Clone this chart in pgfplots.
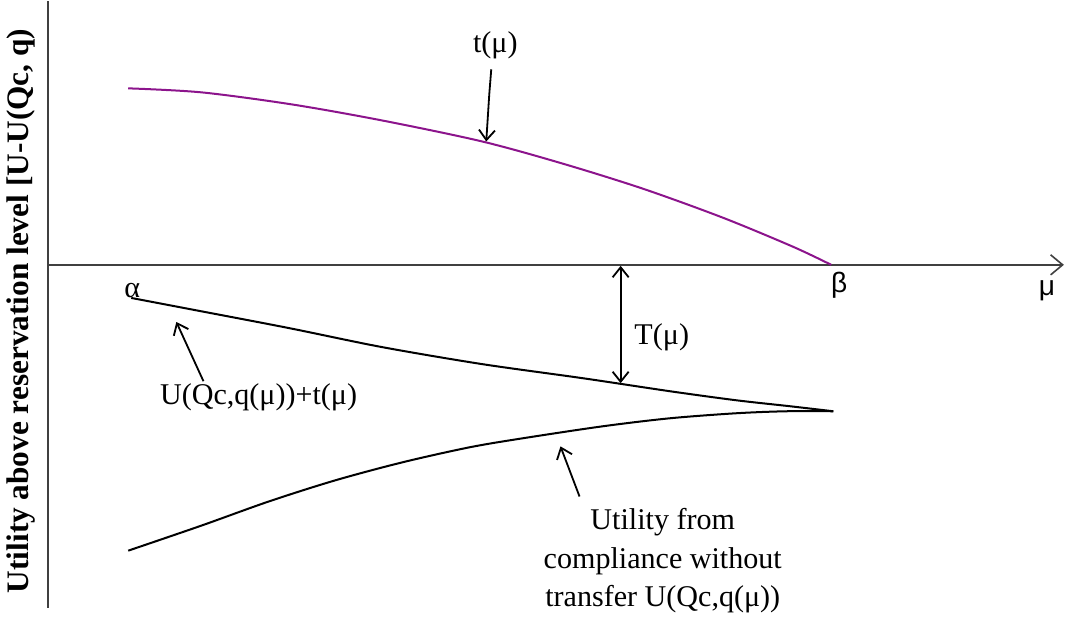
\documentclass[border=0pt]{standalone}
\usepackage{fontspec}
\setmainfont{Liberation Serif}
\newfontfamily\sansf{Liberation Sans}
\usepackage{pgfplots}
\pgfplotsset{compat=1.18}
\usetikzlibrary{arrows.meta}
\begin{document}
\begin{tikzpicture}
\begin{axis}[
  scale only axis, width=532.5pt, height=308.5pt,
  xmin=0, xmax=1065, ymin=-617, ymax=0,
  hide axis, clip=false,
  every axis plot/.append style={line join=round},
]
% axes
\addplot[draw=black!75, line width=1.1pt, -{Straight Barb[length=6pt,width=10pt,line width=0.8pt]}] coordinates {(47,-265) (1060,-265)};
\addplot[draw=black!75, line width=1.1pt] coordinates {(47,-2) (47,-607)};
% t(mu)
\addplot[draw={rgb,255:red,140;green,20;blue,140}, line width=1pt, smooth] coordinates {
(127,-89) (200,-93) (290,-105) (380,-121) (480,-142) (560,-164) (640,-189) (720,-218) (790,-247) (828,-265)};
% U(Qc,q(mu))+t(mu)
\addplot[black, line width=1pt, smooth] coordinates {
(130,-298) (193,-310) (287,-328) (380,-347) (480,-364) (580,-378) (667,-391) (733,-400) (787,-406) (830,-411)};
% U(Qc,q(mu))
\addplot[black, line width=1pt, smooth] coordinates {
(127,-550) (200,-525) (267,-501) (333,-480) (400,-462) (467,-447) (520,-438) (600,-426) (667,-418) (733,-413) (783,-411) (830,-411)};
% annotation arrows
\addplot[black, line width=0.9pt, -{Straight Barb[length=5pt,width=8pt]}] coordinates {(489,-70) (487,-95) (484,-142)};
\addplot[black, line width=0.9pt, -{Straight Barb[length=5pt,width=8pt]}] coordinates {(202,-381) (175,-322)};
\addplot[black, line width=0.9pt, -{Straight Barb[length=5pt,width=8pt]}] coordinates {(577,-496) (558,-446)};
\addplot[black, line width=0.9pt, {Straight Barb[length=5pt,width=8pt]}-{Straight Barb[length=5pt,width=8pt]}] coordinates {(618,-266) (618,-383)};
% texts
\node[font=\fontsize{15}{18}\selectfont] at (axis cs:493,-46) {t(μ)};
\node[font=\fontsize{15}{18}\selectfont] at (axis cs:659,-337) {T(μ)};
\node[font=\fontsize{15}{18}\selectfont] at (axis cs:257,-397) {U(Qc,q(μ))+t(μ)};
\node[font=\fontsize{15}{19}\selectfont, align=center] at (axis cs:660,-560) {Utility from\\compliance without\\transfer U(Qc,q(μ))};
\node[font=\fontsize{15}{18}\selectfont] at (axis cs:131,-291) {α};
\node[font=\sansf\fontsize{14}{18}\selectfont] at (axis cs:836,-285) {β};
\node[font=\sansf\fontsize{14}{18}\selectfont] at (axis cs:1043,-291) {μ};
\node[font=\bfseries\fontsize{15.6}{18}\selectfont, rotate=90] at (axis cs:20,-311) {Utility above reservation level [U-U(Qc, q)};
\end{axis}
\end{tikzpicture}
\end{document}
